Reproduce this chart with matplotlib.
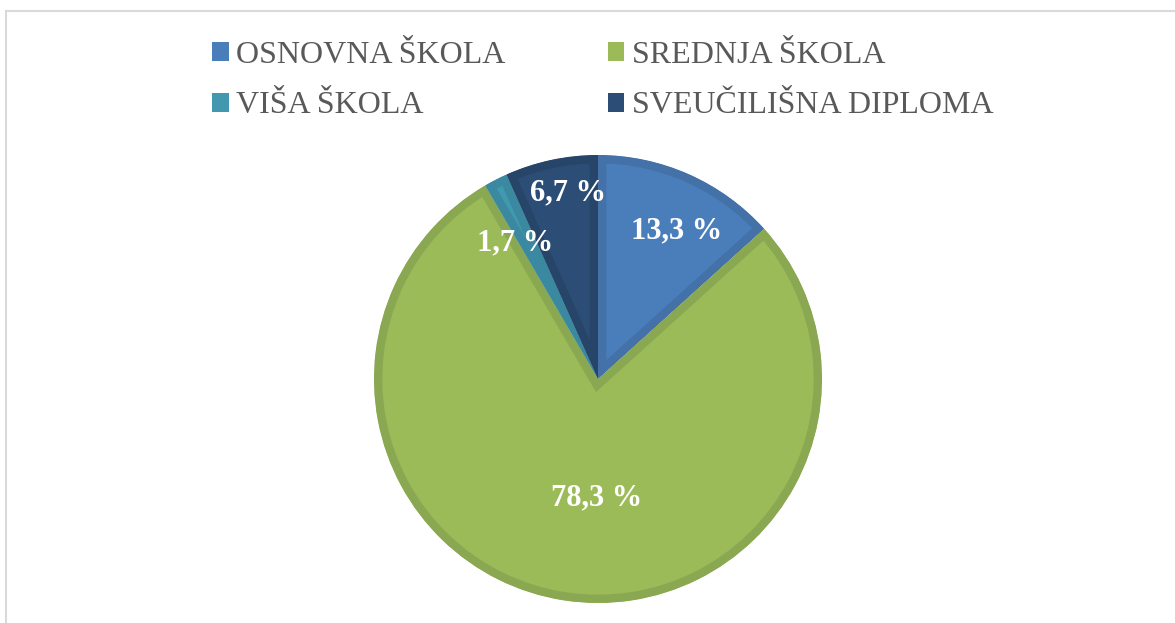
import matplotlib.pyplot as plt
import matplotlib.patches as mpatches
import numpy as np

# Data
labels = ["OSNOVNA ŠKOLA", "SREDNJA ŠKOLA", "VIŠA ŠKOLA", "SVEUČILIŠNA DIPLOMA"]
values = [13.3, 78.3, 1.7, 6.7]
pct_text = ["13,3 %", "78,3 %", "1,7 %", "6,7 %"]
colors = ["#4a7ebb", "#9bbb59", "#4198af", "#2c4d75"]
edge_colors = ["#4371a8", "#8aa851", "#3a89a0", "#274469"]
label_radius = [0.75, 0.53, 0.71, 0.84]   # where each percentage sits
label_shift = [-4, 8, 4.2, -3]            # degrees off the slice middle

plt.rcParams['font.family'] = ['Liberation Serif', 'DejaVu Serif']

fig = plt.figure(figsize=(11.75, 6.23), dpi=100)
ax = fig.add_axes([374/1175, 20/623, 448/1175, 448/623])

wedges, _ = ax.pie(values, colors=colors, startangle=90, counterclock=False,
                   radius=1.0, wedgeprops=dict(linewidth=0))
ax.set_xlim(-1, 1)
ax.set_ylim(-1, 1)
ax.set_aspect('equal')

for w, ec, txt, rr, sh in zip(wedges, edge_colors, pct_text, label_radius, label_shift):
    # darker inner border: stroke clipped to the wedge itself
    w.set_edgecolor(ec)
    w.set_linewidth(12)
    w.set_joinstyle('miter')
    w.set_clip_path(w)
    w.set_clip_on(True)
    mid = np.deg2rad((w.theta1 + w.theta2) / 2 + sh)
    ax.text(rr * np.cos(mid), rr * np.sin(mid), txt, ha='center', va='center',
            color='white', fontsize=22, fontweight='bold')

# legend, filled row by row like the original
handles = [mpatches.Patch(facecolor=c, edgecolor='none') for c in colors]
order = [0, 2, 1, 3]
fig.legend([handles[i] for i in order], [labels[i] for i in order], ncol=2,
           loc='upper left', bbox_to_anchor=(212/1175, 1 - 41/623), frameon=False,
           fontsize=23, labelcolor='#595959', handlelength=0.53, handleheight=0.53,
           handletextpad=0.22, columnspacing=3.2, labelspacing=0.67, borderpad=0,
           borderaxespad=0)

# outer chart frame
fig.patches.append(mpatches.Rectangle((6/1175, -0.05), 1.2, 1 - 11/623 + 0.05,
                                      transform=fig.transFigure, fill=False,
                                      edgecolor='#d9d9d9', linewidth=1.5))

fig.savefig("out.png", dpi=100)
